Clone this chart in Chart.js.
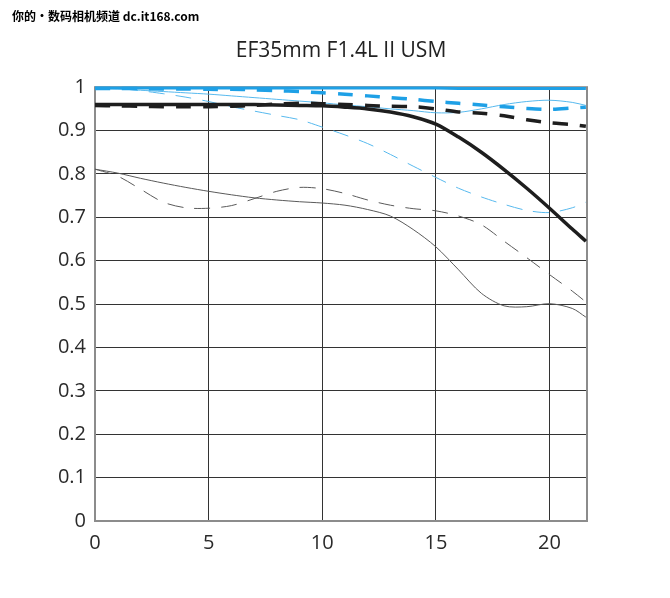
<!DOCTYPE html>
<html>
<head>
<meta charset="utf-8">
<script src="https://cdn.jsdelivr.net/npm/chart.js@4.4.1/dist/chart.umd.min.js"></script>
<style>
  html, body { margin: 0; padding: 0; background: #fff; }
  #wrap { position: relative; width: 670px; height: 598px; }
  #wm { position: absolute; left: 12px; top: 7px; font: bold 12px "Noto Sans CJK SC", "DejaVu Sans", sans-serif; color: #000; white-space: nowrap; letter-spacing: 0px; }
  canvas { display: block; }
</style>
</head>
<body>
<div id="wrap">
  <canvas id="c" width="670" height="598"></canvas>
  <div id="wm">你的•数码相机频道 dc.it168.com</div>
</div>
<script>
// Image height positions (mm from centre)
const positions = [0,1,2,3,4,5,6,7,8,9,10,11,12,13,14,15,16,17,18,19,20,21,21.6];

// Blue = f/8, Black = max aperture; thick = 10 lp/mm, thin = 30 lp/mm; solid = sagittal, dashed = meridional
const blue10S  = [0.998,0.998,0.998,0.998,0.998,0.998,0.998,0.998,0.998,0.998,0.998,0.998,0.998,0.998,0.998,0.998,0.997,0.997,0.997,0.997,0.997,0.997,0.997];
const blue10M  = [0.997,0.997,0.997,0.996,0.996,0.995,0.995,0.994,0.992,0.990,0.987,0.984,0.980,0.976,0.972,0.967,0.963,0.959,0.955,0.951,0.949,0.952,0.954];
const black10S = [0.960,0.960,0.960,0.960,0.960,0.960,0.960,0.960,0.959,0.958,0.957,0.954,0.950,0.943,0.932,0.915,0.885,0.850,0.810,0.767,0.721,0.673,0.645];
const black10M = [0.958,0.957,0.956,0.955,0.955,0.955,0.956,0.958,0.961,0.963,0.962,0.960,0.958,0.956,0.955,0.950,0.943,0.940,0.934,0.925,0.918,0.914,0.910];
const blue30S  = [0.997,0.996,0.993,0.990,0.987,0.984,0.980,0.976,0.972,0.968,0.964,0.959,0.955,0.950,0.946,0.941,0.942,0.950,0.960,0.967,0.970,0.965,0.958];
const blue30M  = [0.998,0.997,0.992,0.985,0.977,0.967,0.955,0.945,0.935,0.925,0.908,0.890,0.870,0.845,0.818,0.792,0.767,0.747,0.730,0.716,0.711,0.722,0.735];
const black30S = [0.811,0.802,0.790,0.779,0.769,0.760,0.752,0.745,0.740,0.736,0.733,0.728,0.718,0.703,0.672,0.632,0.579,0.525,0.496,0.494,0.501,0.490,0.470];
const black30M = [0.811,0.795,0.765,0.735,0.722,0.721,0.727,0.743,0.760,0.769,0.766,0.755,0.740,0.728,0.720,0.715,0.703,0.683,0.645,0.607,0.568,0.530,0.505];

const xTicks = [0, 5, 10, 15, 20];
const yTicks = [0, 0.1, 0.2, 0.3, 0.4, 0.5, 0.6, 0.7, 0.8, 0.9, 1];
const titleText = 'EF35mm F1.4L II USM';

const toPts = arr => arr.map((v, i) => ({ x: positions[i], y: v }));

const BLUE = '#1ea0e6';
const LBLUE = '#57b9ee';
const BLACK = '#1e1e1e';
const GREY = '#5a5a5a';

function ds(data, color, width, dash) {
  return {
    data: toPts(data),
    borderColor: color,
    borderWidth: width,
    borderDash: dash || [],
    pointRadius: 0,
    fill: false,
    tension: 0.3,
    clip: 6
  };
}

const framePlugin = {
  id: 'frame',
  beforeDatasetsDraw(chart) {
    const { ctx, chartArea: a } = chart;
    ctx.save();
    ctx.strokeStyle = '#8c8c8c';
    ctx.lineWidth = 2;
    ctx.strokeRect(a.left, a.top, a.right - a.left, a.bottom - a.top);
    ctx.restore();
  }
};

new Chart(document.getElementById('c'), {
  type: 'line',
  data: {
    datasets: [
      ds(blue10S, BLUE, 3),
      ds(blue10M, BLUE, 3.5, [15, 12]),
      ds(black10S, BLACK, 3.5),
      ds(black10M, BLACK, 3.5, [15, 12]),
      ds(blue30S, LBLUE, 1),
      ds(blue30M, LBLUE, 1, [16, 11]),
      ds(black30S, GREY, 1),
      ds(black30M, GREY, 1, [16, 11])
    ]
  },
  options: {
    responsive: false,
    animation: false,
    layout: { padding: { left: 0, right: 83, top: 0, bottom: 0 } },
    plugins: {
      legend: { display: false },
      tooltip: { enabled: false },
      title: {
        display: true,
        fullSize: false,
        text: titleText,
        color: '#222',
        font: { family: 'Open Sans', size: 21, weight: 'normal', lineHeight: 1.2 },
        padding: { top: 38, bottom: 24 }
      }
    },
    scales: {
      x: {
        type: 'linear',
        min: 0,
        max: 21.65,
        afterFit: s => { s.height = 77; },
        afterBuildTicks: s => { s.ticks = xTicks.map(v => ({ value: v })); },
        border: { display: false },
        grid: { color: '#333', lineWidth: 1, drawTicks: false },
        ticks: {
          padding: 10,
          color: '#2a2a2a',
          font: { family: 'Open Sans', size: 20 },
          maxRotation: 0
        }
      },
      y: {
        min: 0,
        max: 1,
        afterFit: s => { s.width = 95; },
        afterBuildTicks: s => { s.ticks = yTicks.map(v => ({ value: v })); },
        border: { display: false },
        grid: { color: '#333', lineWidth: 1, drawTicks: false },
        ticks: {
          padding: 9,
          color: '#2a2a2a',
          font: { family: 'Open Sans', size: 20 },
          callback: v => String(Number(v.toFixed(1)))
        }
      }
    }
  },
  plugins: [framePlugin]
});
</script>
</body>
</html>
